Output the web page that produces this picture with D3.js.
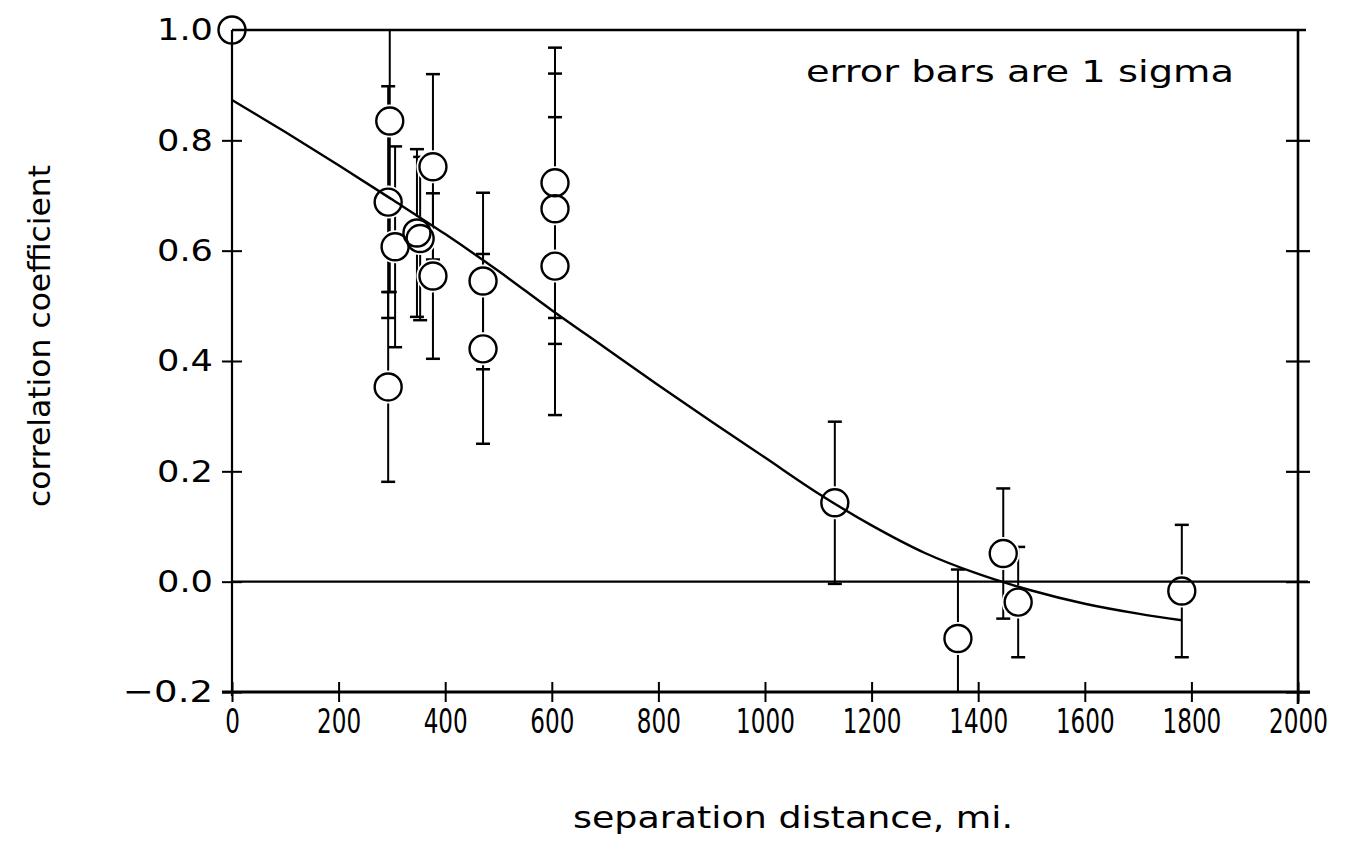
<!DOCTYPE html>
<html>
<head>
<meta charset="utf-8">
<script src="https://cdn.jsdelivr.net/npm/d3@7"></script>
<style>
  html, body { margin: 0; background: #fff; }
  text { font-family: "DejaVu Sans", sans-serif; fill: #000; }
</style>
</head>
<body>
<svg id="chart" width="1347" height="853"></svg>
<script>
// Station pairs: separation distance (mi), correlation coefficient, 1-sigma error
const distance    = [0, 296, 293, 293, 306, 347, 353, 377, 377, 471, 471, 606, 606, 606, 1131, 1362, 1447, 1475, 1782];
const correlation = [1.0, 0.835, 0.688, 0.353, 0.607, 0.632, 0.622, 0.752, 0.554, 0.545, 0.422, 0.723, 0.676, 0.572, 0.143, -0.103, 0.051, -0.037, -0.017];
const sigma       = [0, 0.31, 0.21, 0.172, 0.182, 0.152, 0.148, 0.168, 0.15, 0.16, 0.172, 0.245, 0.245, 0.27, 0.147, 0.125, 0.118, 0.1, 0.12];

// Fitted correlation curve
const fitDistance    = [0, 100, 200, 300, 400, 500, 600, 700, 800, 900, 1000, 1100, 1200, 1300, 1400, 1500, 1600, 1700, 1782];
const fitCorrelation = [0.873, 0.815, 0.755, 0.693, 0.630, 0.563, 0.492, 0.424, 0.356, 0.290, 0.225, 0.160, 0.102, 0.052, 0.014, -0.016, -0.040, -0.058, -0.070];

const xTicks = [0, 200, 400, 600, 800, 1000, 1200, 1400, 1600, 1800, 2000];
const yTicks = [-0.2, 0.0, 0.2, 0.4, 0.6, 0.8, 1.0];
const rightTicks = [-0.2, 0.0, 0.2, 0.4, 0.6, 0.8];

const xLabel = "separation distance, mi.";
const yLabel = "correlation coefficient";
const note = "error bars are 1 sigma";

const svg = d3.select("#chart");
const L = 232, R = 1298, T = 30, B = 692;

const x = d3.scaleLinear().domain([0, 2000]).range([L, R]);
const y = d3.scaleLinear().domain([-0.2, 1.0]).range([B, T]);

const pts = distance.map((d, i) => ({ d, r: correlation[i], s: sigma[i] }));

svg.append("defs").append("clipPath").attr("id", "plot")
  .append("rect").attr("x", L).attr("y", T).attr("width", R - L).attr("height", B - T);

// Error bars
const capW = 7;
const eb = svg.append("g").attr("clip-path", "url(#plot)")
  .attr("stroke", "#000").attr("stroke-width", 2).attr("fill", "none");
pts.filter(p => p.s > 0).forEach(p => {
  const cx = x(p.d), y1 = y(p.r + p.s), y2 = y(p.r - p.s);
  eb.append("line").attr("x1", cx).attr("x2", cx).attr("y1", y1).attr("y2", y2);
  eb.append("line").attr("x1", cx - capW).attr("x2", cx + capW).attr("y1", y1).attr("y2", y1).attr("stroke-width", 2.5);
  eb.append("line").attr("x1", cx - capW).attr("x2", cx + capW).attr("y1", y2).attr("y2", y2).attr("stroke-width", 2.5);
});

// White halos leave a small gap where bars meet the markers
const rad = 13.5;
svg.append("g").selectAll("circle").data(pts).join("circle")
  .attr("cx", p => x(p.d)).attr("cy", p => y(p.r)).attr("r", rad + 3)
  .attr("fill", "#fff");

// Zero reference line
svg.append("line").attr("x1", L).attr("x2", R + 10).attr("y1", y(0)).attr("y2", y(0))
  .attr("stroke", "#000").attr("stroke-width", 2.2);

// Top edge of the frame
svg.append("line").attr("x1", L).attr("x2", R + 8).attr("y1", T).attr("y2", T)
  .attr("stroke", "#000").attr("stroke-width", 2.6);

// Bottom axis with ticks crossing the line; condensed digits
const xScaleText = 0.68;
const xAxis = svg.append("g").attr("transform", `translate(0,${B})`)
  .call(d3.axisBottom(x).tickValues(xTicks).tickSize(10).tickPadding(14).tickFormat(d3.format("d")));
xAxis.select(".domain").remove();
xAxis.selectAll(".tick line").attr("y1", -10).attr("y2", 10).attr("stroke-width", 2);
xAxis.selectAll(".tick text")
  .attr("font-size", 34).attr("dy", "0.5em")
  .attr("transform", `scale(${xScaleText},1)`);
svg.append("line").attr("x1", L - 10).attr("x2", R + 12).attr("y1", B).attr("y2", B)
  .attr("stroke", "#000").attr("stroke-width", 3);

// Left axis
const yAxis = svg.append("g").attr("transform", `translate(${L},0)`)
  .call(d3.axisLeft(y).tickValues(yTicks).tickSize(10).tickPadding(10).tickFormat(d3.format(".1f")));
yAxis.select(".domain").remove();
yAxis.selectAll(".tick line").attr("x1", -10).attr("x2", 10).attr("stroke-width", 2)
  .attr("display", d => d === 1.0 ? "none" : null);
yAxis.selectAll(".tick text")
  .attr("font-size", 31).attr("x", -19)
  .attr("textLength", d => d < 0 ? 90 : 56)
  .attr("lengthAdjust", "spacingAndGlyphs");
svg.append("line").attr("x1", L).attr("x2", L).attr("y1", T).attr("y2", B + 4)
  .attr("stroke", "#000").attr("stroke-width", 2.2);

// Right axis
const rAxis = svg.append("g").attr("transform", `translate(${R},0)`)
  .call(d3.axisRight(y).tickValues(rightTicks).tickSize(12).tickFormat(""));
rAxis.select(".domain").remove();
rAxis.selectAll(".tick line").attr("x1", -12).attr("x2", 12).attr("stroke-width", 2.2);
svg.append("line").attr("x1", R).attr("x2", R).attr("y1", T - 1).attr("y2", B + 12)
  .attr("stroke", "#000").attr("stroke-width", 2.6);

// Fitted curve
const line = d3.line().x((d, i) => x(fitDistance[i])).y(d => y(d)).curve(d3.curveCatmullRom);
svg.append("path").attr("d", line(fitCorrelation))
  .attr("fill", "none").attr("stroke", "#000").attr("stroke-width", 2.4);

// Markers
svg.append("g").selectAll("circle").data(pts).join("circle")
  .attr("cx", p => x(p.d)).attr("cy", p => y(p.r)).attr("r", rad)
  .attr("fill", "none").attr("stroke", "#000").attr("stroke-width", 2.4);

// Annotations and axis titles
svg.append("text").attr("x", 1020).attr("y", 82).attr("text-anchor", "middle")
  .attr("font-size", 31).attr("textLength", 428).attr("lengthAdjust", "spacingAndGlyphs").text(note);

svg.append("text").attr("x", 793).attr("y", 828).attr("text-anchor", "middle")
  .attr("font-size", 31).attr("textLength", 440).attr("lengthAdjust", "spacingAndGlyphs").text(xLabel);

svg.append("text").attr("transform", "translate(50,336) rotate(-90)").attr("text-anchor", "middle")
  .attr("font-size", 31).attr("textLength", 342).attr("lengthAdjust", "spacingAndGlyphs").text(yLabel);
</script>
</body>
</html>
